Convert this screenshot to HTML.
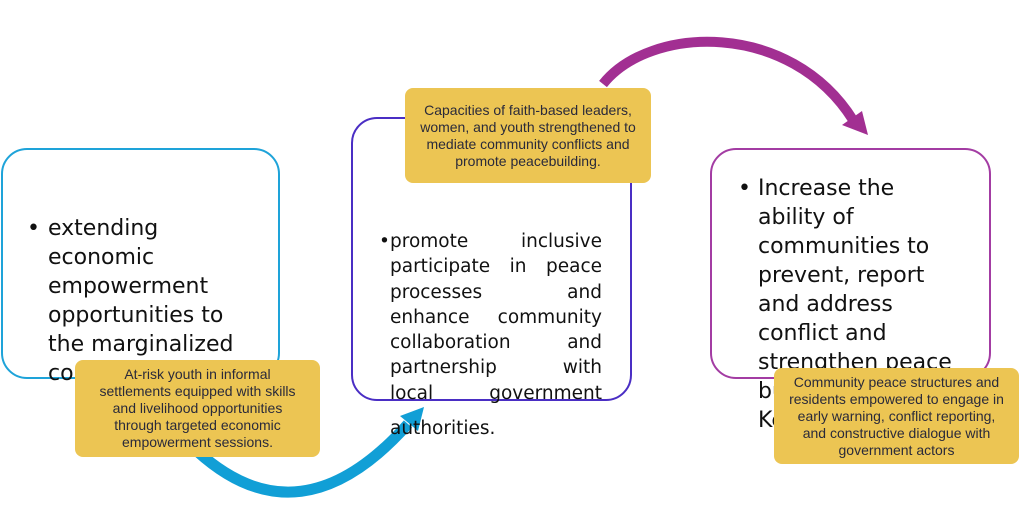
<!DOCTYPE html>
<html><head><meta charset="utf-8"><style>
body{margin:0;width:1024px;height:526px;background:#fff;position:relative;overflow:hidden;font-family:"Liberation Sans",sans-serif;}
.box{position:absolute;box-sizing:border-box;border:2px solid;border-radius:26px;background:#fff;}
.t{position:absolute;color:#111;font-family:"DejaVu Sans",sans-serif;white-space:nowrap;}
.j div{text-align:justify;text-align-last:justify;}
.y{position:absolute;background:#ecc553;border-radius:8px;color:#2a2a3a;font-size:14px;line-height:17px;text-align:center;display:flex;align-items:center;justify-content:center;box-sizing:border-box;white-space:nowrap;}
svg{position:absolute;left:0;top:0;}
</style></head><body>
<svg width="1024" height="526">
<path d="M 197 451 Q 300 545 408 424" fill="none" stroke="#119fd6" stroke-width="11"/>
<polygon points="424,407 418,431 400,416" fill="#119fd6"/>
<path d="M 603 84 C 650 25, 790 20, 853 120" fill="none" stroke="#a22f92" stroke-width="10"/>
<polygon points="868,135 862,111 842,125" fill="#a22f92"/>
</svg>
<div class="box" style="left:1px;top:148px;width:279px;height:231px;border-color:#1ea3d9"></div>
<div class="box" style="left:351px;top:117px;width:281px;height:284px;border-color:#4a2ec4"></div>
<div class="box" style="left:710px;top:148px;width:281px;height:231px;border-color:#a33ca3"></div>
<div class="t" style="left:27px;top:214px;font-size:22px;line-height:29px;">•</div>
<div class="t" style="left:48px;top:214px;font-size:22px;line-height:29px;">extending<br>economic<br>empowerment<br>opportunities to<br>the marginalized<br>communities</div>
<div class="t" style="left:379px;top:229px;font-size:18.5px;line-height:25.3px;">•</div>
<div class="t j" style="left:390px;top:229px;width:212px;font-size:18.5px;line-height:25.3px;"><div>promote inclusive</div><div>participate in peace</div><div>processes and</div><div>enhance community</div><div>collaboration and</div><div>partnership with</div><div>local government</div><div style="text-align-last:left;margin-top:10px">authorities.</div></div>
<div class="t" style="left:738px;top:174px;font-size:22px;line-height:29px;">•</div>
<div class="t" style="left:758px;top:174px;font-size:22px;line-height:29px;">Increase the<br>ability of<br>communities to<br>prevent, report<br>and address<br>conflict and<br>strengthen peace<br>building in<br>Kenya</div>
<div class="y" style="left:75px;top:360px;width:245px;height:97px;">At-risk youth in informal<br>settlements equipped with skills<br>and livelihood opportunities<br>through targeted economic<br>empowerment sessions.</div>
<div class="y" style="left:405px;top:88px;width:246px;height:95px;">Capacities of faith-based leaders,<br>women, and youth strengthened to<br>mediate community conflicts and<br>promote peacebuilding.</div>
<div class="y" style="left:774px;top:368px;width:245px;height:96px;">Community peace structures and<br>residents empowered to engage in<br>early warning, conflict reporting,<br>and constructive dialogue with<br>government actors</div>
</body></html>
